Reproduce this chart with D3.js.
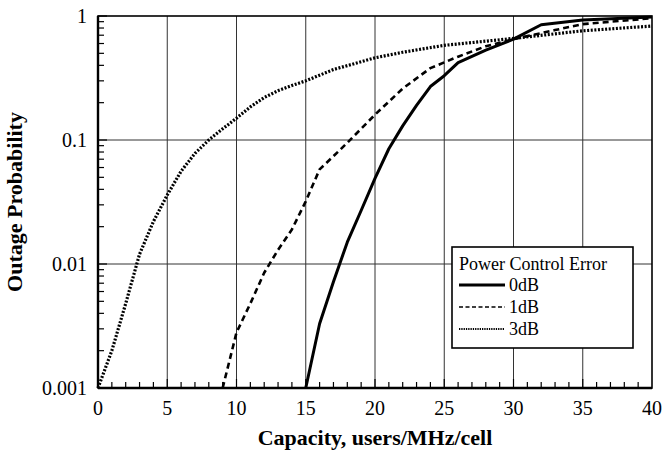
<!DOCTYPE html>
<html>
<head>
<meta charset="utf-8">
<script src="https://cdn.jsdelivr.net/npm/d3@7"></script>
<style>
  body { margin: 0; background: #fff; }
  svg { display: block; }
  text { font-family: "Liberation Serif", "Times New Roman", serif; fill: #000; }
</style>
</head>
<body>
<svg id="chart" width="664" height="453"></svg>
<script>
// Outage probability vs capacity (users/MHz/cell)
var xTicks = [0, 5, 10, 15, 20, 25, 30, 35, 40];
var yTicks = [0.001, 0.01, 0.1, 1];
var yTickLabels = ["0.001", "0.01", "0.1", "1"];

var pce0dB = [[15,0.001],[16,0.0033],[17,0.0072],[18,0.015],[19,0.027],[20,0.049],[21,0.085],
  [22,0.13],[23,0.19],[24,0.27],[25,0.33],[26,0.42],[28,0.53],[30,0.65],[32,0.85],[35,0.93],[40,0.98]];
var pce1dB = [[9,0.001],[10,0.0028],[11,0.0048],[12,0.0085],[13,0.013],[14,0.019],[15,0.032],
  [16,0.058],[17,0.074],[18,0.095],[20,0.16],[22,0.26],[24,0.38],[26,0.47],[28,0.57],[30,0.65],
  [33,0.77],[35,0.86],[40,0.96]];
var pce3dB = [[0,0.001],[1,0.002],[2,0.0048],[3,0.012],[4,0.022],[5,0.036],[6,0.056],[7,0.078],
  [8,0.1],[9,0.123],[10,0.15],[11,0.185],[12,0.22],[13,0.25],[14,0.275],[15,0.30],[17,0.37],
  [20,0.46],[22,0.51],[25,0.58],[30,0.66],[35,0.76],[40,0.83]];

var seriesNames = ["0dB", "1dB", "3dB"];
var seriesData = [pce0dB, pce1dB, pce3dB];

var margin = {left: 98, top: 16, right: 12, bottom: 65};
var W = 664, H = 453;
var svg = d3.select("#chart");

var x = d3.scaleLinear().domain([0, 40]).range([margin.left, W - margin.right]);
var y = d3.scaleLog().domain([0.001, 1]).range([H - margin.bottom, margin.top]);

// stile je Reihe
var styles = [
  {width: 3, dash: null, legWidth: 3, legDash: null},
  {width: 2.6, dash: "6,4", legWidth: 1.6, legDash: "4,2.5"},
  {width: 3.2, dash: "2,1.6", legWidth: 1.8, legDash: "1.3,1"}
];

// Gitter
var grid = svg.append("g").attr("stroke", "#333").attr("stroke-width", 1);
grid.selectAll(".vx").data(xTicks.slice(1, -1)).enter().append("line")
  .attr("x1", function(d) { return x(d); }).attr("x2", function(d) { return x(d); })
  .attr("y1", y(1)).attr("y2", y(0.001));
grid.selectAll(".hy").data([0.01, 0.1]).enter().append("line")
  .attr("x1", x(0)).attr("x2", x(40))
  .attr("y1", function(d) { return y(d); }).attr("y2", function(d) { return y(d); });

// kleine Ticks innen (x: jede Einheit, y: 2..9)
var xMinor = d3.range(1, 40);
svg.append("g").attr("stroke", "#000").attr("stroke-width", 1.2)
  .selectAll("line").data(xMinor).enter().append("line")
  .attr("x1", function(d) { return x(d); }).attr("x2", function(d) { return x(d); })
  .attr("y1", y(0.001)).attr("y2", function(d) { return y(0.001) - (d % 5 === 0 ? 9 : 6); });

var yMinor = [];
[0.001, 0.01, 0.1].forEach(function(b) {
  for (var k = 2; k <= 10; k++) yMinor.push(b * k);
});
svg.append("g").attr("stroke", "#000").attr("stroke-width", 1.2)
  .selectAll("line").data(yMinor).enter().append("line")
  .attr("x1", x(0)).attr("x2", function(d, i) { return x(0) + ((i % 9) === 8 ? 9 : 6); })
  .attr("y1", function(d) { return y(d); }).attr("y2", function(d) { return y(d); });

// Kurven
var line = d3.line()
  .x(function(d) { return x(d[0]); })
  .y(function(d) { return y(d[1]); });

svg.append("g").selectAll("path").data(seriesData).enter().append("path")
  .attr("d", line)
  .attr("fill", "none")
  .attr("stroke", "#000")
  .attr("stroke-width", function(d, i) { return styles[i].width; })
  .attr("stroke-dasharray", function(d, i) { return styles[i].dash; })
  .attr("stroke-linejoin", "round");

// Rahmen
svg.append("rect")
  .attr("x", x(0)).attr("y", y(1))
  .attr("width", x(40) - x(0)).attr("height", y(0.001) - y(1))
  .attr("fill", "none").attr("stroke", "#000").attr("stroke-width", 1.6);
svg.append("line").attr("x1", x(0)).attr("x2", x(0)).attr("y1", y(1)).attr("y2", y(0.001))
  .attr("stroke", "#000").attr("stroke-width", 2.4);
svg.append("line").attr("x1", x(0)).attr("x2", x(40)).attr("y1", y(0.001)).attr("y2", y(0.001))
  .attr("stroke", "#000").attr("stroke-width", 2.4);

// Achsenbeschriftung
svg.append("g").selectAll("text").data(xTicks).enter().append("text")
  .attr("x", function(d) { return x(d); })
  .attr("y", y(0.001) + 27)
  .attr("text-anchor", "middle")
  .attr("font-size", 20)
  .text(function(d) { return d; });

svg.append("g").selectAll("text").data(yTicks).enter().append("text")
  .attr("x", x(0) - 11)
  .attr("y", function(d) { return y(d) + 7; })
  .attr("text-anchor", "end")
  .attr("font-size", 20)
  .text(function(d, i) { return yTickLabels[i]; });

svg.append("text")
  .attr("x", (x(0) + x(40)) / 2)
  .attr("y", 445)
  .attr("text-anchor", "middle")
  .attr("font-size", 22)
  .attr("font-weight", "bold")
  .text("Capacity, users/MHz/cell");

svg.append("text")
  .attr("transform", "translate(22," + ((y(1) + y(0.001)) / 2) + ") rotate(-90)")
  .attr("text-anchor", "middle")
  .attr("font-size", 22)
  .attr("font-weight", "bold")
  .text("Outage Probability");

// Legende
var leg = svg.append("g").attr("transform", "translate(452,247)");
leg.append("rect").attr("width", 181).attr("height", 101)
  .attr("fill", "#fff").attr("stroke", "#000").attr("stroke-width", 1.6);
leg.append("text").attr("x", 7).attr("y", 23).attr("font-size", 18).text("Power Control Error");
var rows = leg.selectAll(".row").data(seriesNames).enter().append("g")
  .attr("transform", function(d, i) { return "translate(0," + (38 + i * 22) + ")"; });
rows.append("line").attr("x1", 7).attr("x2", 53).attr("y1", 0).attr("y2", 0)
  .attr("stroke", "#000")
  .attr("stroke-width", function(d, i) { return styles[i].legWidth; })
  .attr("stroke-dasharray", function(d, i) { return styles[i].legDash; });
rows.append("text").attr("x", 57).attr("y", 6).attr("font-size", 18)
  .text(function(d) { return d; });
</script>
</body>
</html>
